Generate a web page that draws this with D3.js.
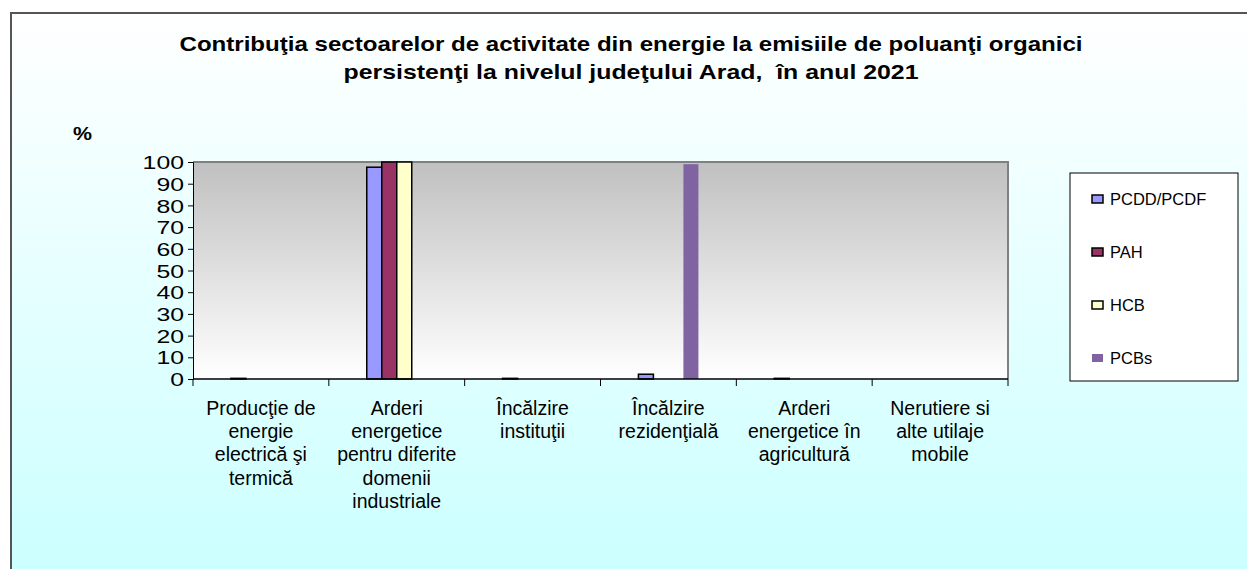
<!DOCTYPE html>
<html>
<head>
<meta charset="utf-8">
<script src="https://cdn.jsdelivr.net/npm/d3@7"></script>
<style>
  body { margin: 0; background: #fff; }
  svg { display: block; font-family: "Liberation Sans", Arial, sans-serif; }
</style>
</head>
<body>
<script>
const categories = [
    ["Producţie de", "energie", "electrică şi", "termică"],
    ["Arderi", "energetice", "pentru diferite", "domenii", "industriale"],
    ["Încălzire", "instituţii"],
    ["Încălzire", "rezidenţială"],
    ["Arderi", "energetice în", "agricultură"],
    ["Nerutiere si", "alte utilaje", "mobile"]
];
const seriesNames = ["PCDD/PCDF", "PAH", "HCB", "PCBs"];
const pcdd = [0.3, 97.6, 0.3, 2.2, 0.3, 0];
const pah = [0, 100, 0, 0, 0, 0];
const hcb = [0, 100, 0, 0, 0, 0];
const pcbs = [0, 0, 0, 99, 0, 0];
const yTicks = [0, 10, 20, 30, 40, 50, 60, 70, 80, 90, 100];
const titleLines = [
    "Contribuţia sectoarelor de activitate din energie la emisiile de poluanţi organici",
    "persistenţi la nivelul judeţului Arad,  în anul 2021"
];

const W = 1247, H = 569;
const colors = ["#9999FF", "#993366", "#FFFFCC", "#8064A2"];
const strokes = ["#000", "#000", "#000", "none"];
const seriesData = [pcdd, pah, hcb, pcbs];

const svg = d3.select("body").append("svg").attr("width", W).attr("height", H);
const defs = svg.append("defs");

const bg = defs.append("linearGradient").attr("id", "bg")
    .attr("x1", 0).attr("y1", 0).attr("x2", 0).attr("y2", 1);
bg.append("stop").attr("offset", "0%").attr("stop-color", "#FFFFFF");
bg.append("stop").attr("offset", "100%").attr("stop-color", "#CCFFFF");

const pg = defs.append("linearGradient").attr("id", "pg")
    .attr("x1", 0).attr("y1", 0).attr("x2", 0).attr("y2", 1);
pg.append("stop").attr("offset", "0%").attr("stop-color", "#C0C0C0");
pg.append("stop").attr("offset", "100%").attr("stop-color", "#FFFFFF");

// chart area
svg.append("rect").attr("x", 11).attr("y", 13).attr("width", W - 11).attr("height", H - 13)
    .attr("fill", "url(#bg)");
svg.append("path").attr("d", `M11,${H} V13 H${W}`)
    .attr("fill", "none").attr("stroke", "#555").attr("stroke-width", 2);

// title
const titleW = [903, 575];
svg.append("g").selectAll("text").data(titleLines).join("text")
    .attr("x", 631).attr("y", (d, i) => 51 + i * 28)
    .attr("text-anchor", "middle").attr("font-size", 20.5).attr("font-weight", "bold")
    .attr("xml:space", "preserve").style("white-space", "pre")
    .attr("textLength", (d, i) => titleW[i]).attr("lengthAdjust", "spacingAndGlyphs")
    .text(d => d);

svg.append("text").attr("x", 73).attr("y", 140).attr("font-size", 19).attr("font-weight", "bold")
    .attr("textLength", 19).attr("lengthAdjust", "spacingAndGlyphs").text("%");

const margin = { top: 162, left: 193 };
const w = 815, h = 217;
const g = svg.append("g").attr("transform", `translate(${margin.left},${margin.top})`);

const x = d3.scaleBand().domain(d3.range(categories.length)).range([0, w]);
const xs = d3.scaleBand().domain(d3.range(seriesNames.length)).range([0, 60]);
const y = d3.scaleLinear().domain([0, 100]).range([h, 0]);

g.append("rect").attr("width", w).attr("height", h).attr("fill", "url(#pg)");
g.append("path").attr("d", `M0,0 H${w} V${h}`).attr("fill", "none").attr("stroke", "#808080").attr("stroke-width", 2);

// bars
seriesData.forEach((vals, s) => {
    const pts = vals.map((v, i) => ({ v, i })).filter(d => d.v > 0);
    g.append("g").selectAll("rect").data(pts).join("rect")
        .attr("x", d => x(d.i) + x.bandwidth() / 2 - 30 + xs(s))
        .attr("y", d => y(d.v))
        .attr("width", xs.bandwidth())
        .attr("height", d => h - y(d.v))
        .attr("fill", colors[s])
        .attr("stroke", strokes[s])
        .attr("stroke-width", 1.5);
});

// y axis
const yAxis = g.append("g").call(d3.axisLeft(y).tickValues(yTicks).tickSize(5).tickPadding(4));
yAxis.selectAll("text").attr("font-size", 18.5).attr("fill", "#000").attr("dy", "0.36em")
    .attr("textLength", d => String(d).length * 13.8).attr("lengthAdjust", "spacingAndGlyphs");
yAxis.selectAll("line, path").attr("stroke", "#000");

// x axis
const xAxis = g.append("g").attr("transform", `translate(0,${h})`);
xAxis.append("line").attr("x2", w).attr("stroke", "#000").attr("stroke-width", 1.5);
xAxis.selectAll("line.tk").data(d3.range(categories.length + 1)).join("line")
    .attr("class", "tk")
    .attr("x1", d => d * x.step()).attr("x2", d => d * x.step())
    .attr("y1", 0).attr("y2", 7).attr("stroke", "#000");
xAxis.selectAll("text").data(categories).join("text")
    .attr("text-anchor", "middle").attr("font-size", 19.5).attr("fill", "#000")
    .each(function (lines, i) {
        d3.select(this).selectAll("tspan").data(lines).join("tspan")
            .attr("x", x(i) + x.bandwidth() / 2)
            .attr("y", (d, k) => 36 + k * 23.2)
            .text(d => d);
    });

// legend
const lg = svg.append("g").attr("transform", "translate(1070,173)");
lg.append("rect").attr("width", 168).attr("height", 208).attr("fill", "#fff")
    .attr("stroke", "#000").attr("stroke-width", 1);
const items = lg.selectAll("g.it").data(seriesNames).join("g").attr("class", "it")
    .attr("transform", (d, i) => `translate(0,${26 + i * 53})`);
items.append("rect").attr("x", 22).attr("y", -4).attr("width", 11).attr("height", 8)
    .attr("fill", (d, i) => colors[i])
    .attr("stroke", (d, i) => strokes[i]).attr("stroke-width", 1.5);
items.append("text").attr("x", 40).attr("dy", "0.36em").attr("font-size", 16.5).text(d => d);
</script>
</body>
</html>
